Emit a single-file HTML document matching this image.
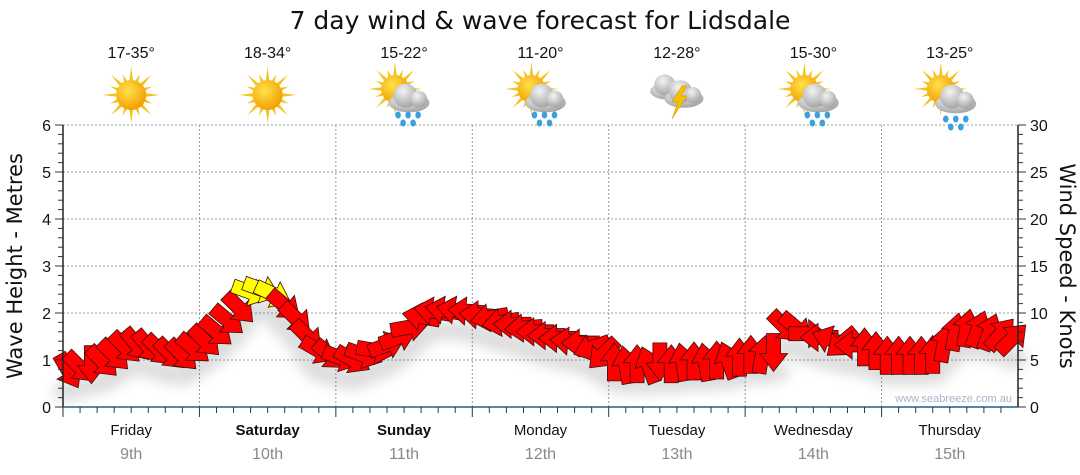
<!DOCTYPE html>
<html><head><meta charset="utf-8">
<style>
html,body{margin:0;padding:0;background:#fff;}
svg{display:block;font-family:"Liberation Sans","DejaVu Sans",sans-serif;}
</style></head>
<body>
<svg id="chart" width="1080" height="475" viewBox="0 0 1080 475" xmlns="http://www.w3.org/2000/svg">
<defs>
<radialGradient id="sunG" cx="0.4" cy="0.35" r="0.7"><stop offset="0" stop-color="#ffe24a"/><stop offset="1" stop-color="#f29a00"/></radialGradient>
<radialGradient id="cloudG" cx="0.4" cy="0.3" r="0.8"><stop offset="0" stop-color="#f4f4f4"/><stop offset="1" stop-color="#9a9a9a"/></radialGradient>
<filter id="shadow" x="-50%" y="-50%" width="200%" height="200%"><feGaussianBlur stdDeviation="6"/></filter>
</defs>
<text x="540" y="29" font-size="25" text-anchor="middle" fill="#111" font-family="DejaVu Sans, sans-serif">7 day wind &amp; wave forecast for Lidsdale</text>
<g id="grid"></g>
<g id="icons"></g>
<g id="shadows" filter="url(#shadow)" opacity="0.22"></g>
<g id="arrows"></g>
<g id="axes"></g>
<text transform="translate(22,266) rotate(-90)" font-size="21" text-anchor="middle" fill="#111" font-family="DejaVu Sans, sans-serif">Wave Height - Metres</text>
<text transform="translate(1060,266) rotate(90)" font-size="21" text-anchor="middle" fill="#111" font-family="DejaVu Sans, sans-serif">Wind Speed - Knots</text>
<text x="1012" y="402" font-size="11" text-anchor="end" fill="#aab4c4">www.seabreeze.com.au</text>
</svg>
<script>
const days = ["Friday","Saturday","Sunday","Monday","Tuesday","Wednesday","Thursday"];
const dates = ["9th","10th","11th","12th","13th","14th","15th"];
const boldDays = [false,true,true,false,false,false,false];
const temps = ["17-35°","18-34°","15-22°","11-20°","12-28°","15-30°","13-25°"];
const weather = ["sun","sun","sunrain","sunrain","storm","sunrain","suncloud"];
const waveTicks = [0,1,2,3,4,5,6];
const windTicks = [0,5,10,15,20,25,30];
const windSpeed = [
3.8,4.2,4.5,4.8,5.5,6.3,6.6,6.4,6.0,5.6,5.5,6.2,
7.0,8.0,9.2,10.5,12.2,12.5,12.0,10.8,9.4,7.5,6.0,5.5,
5.2,5.0,5.5,6.0,6.6,7.4,8.5,9.6,10.2,10.3,10.3,10.2,
9.8,9.5,9.0,8.8,8.4,8.0,7.6,7.3,7.0,6.8,6.3,5.6,
4.8,4.5,4.6,4.5,4.8,4.6,4.8,4.9,4.8,5.0,5.0,5.3,
5.6,5.6,5.8,8.5,8.4,7.8,7.4,7.2,6.8,6.6,6.4,6.0,
5.5,5.5,5.5,5.5,5.6,6.8,8.0,8.4,8.3,8.0,7.8,7.3];
const windDir = [
60,45,90,45,45,45,50,50,45,45,45,40,
45,40,40,45,20,20,25,40,45,45,30,40,
20,30,20,10,-20,-20,-10,190,190,190,190,185,
185,170,170,180,175,180,180,180,185,180,160,135,
270,260,270,250,90,270,260,270,260,270,250,270,
270,280,90,45,40,0,180,200,140,180,270,270,
270,270,270,270,270,280,280,280,290,290,310,315];

const NS="http://www.w3.org/2000/svg";
const L=63,R=1018,T=125,B=407,dayW=(R-L)/7;
const yW=m=>B-(B-T)*m/6;
const yK=k=>B-(B-T)*k/30;
const xT=(d,h)=>L+(d+h/24)*dayW;
function el(tag,attrs,parent){const e=document.createElementNS(NS,tag);for(const k in attrs)e.setAttribute(k,attrs[k]);parent.appendChild(e);return e;}
const grid=document.getElementById('grid'),axes=document.getElementById('axes'),icons=document.getElementById('icons');

waveTicks.forEach(m=>{if(m>0){const g=el('line',{x1:L,x2:R,y1:yW(m),y2:yW(m),stroke:'#999','stroke-dasharray':'2,2'},grid);}
 const t=el('text',{x:L-12,y:yW(m)+6,'font-size':16,'text-anchor':'end',fill:'#111'},axes);t.textContent=m;
 });
for(let i=0;i<=30;i++){const y=yW(i/5);el('line',{x1:L-(i%5==0?8:5),x2:L,y1:y,y2:y,stroke:'#333'},axes);}
windTicks.forEach(k=>{const t=el('text',{x:R+12,y:yK(k)+6,'font-size':16,fill:'#111'},axes);t.textContent=k;
 });
for(let i=0;i<=30;i++){const y=yK(i);el('line',{x1:R,x2:R+(i%5==0?8:5),y1:y,y2:y,stroke:'#333'},axes);}
el('line',{x1:L,x2:L,y1:T,y2:B,stroke:'#222','stroke-width':1.5},axes);
el('line',{x1:R,x2:R,y1:T,y2:B,stroke:'#222','stroke-width':1.5},axes);
el('line',{x1:L,x2:R,y1:B,y2:B,stroke:'#1f5f8b','stroke-width':1.5},axes);
for(let d=0;d<7;d++){
 if(d>0){const g=el('line',{x1:xT(d,0),x2:xT(d,0),y1:T,y2:B,stroke:'#999','stroke-dasharray':'2,2'},grid);}
 for(let h=0;h<24;h+=3)el('line',{x1:xT(d,h),x2:xT(d,h),y1:B,y2:B+(h==0?10:6),stroke:'#333'},axes);
 const cx=xT(d,12);
 const t=el('text',{x:cx,y:435,'font-size':15,'text-anchor':'middle',fill:'#111','font-weight':boldDays[d]?'bold':'normal'},axes);t.textContent=days[d];
 
 const t2=el('text',{x:cx,y:459,'font-size':16,'text-anchor':'middle',fill:'#888'},axes);t2.textContent=dates[d];
 
 const t3=el('text',{x:cx,y:58,'font-size':16,'text-anchor':'middle',fill:'#111'},icons);t3.textContent=temps[d];
 
 drawIcon(weather[d],cx,95);
}
function sun(g,x,y,r){for(let i=0;i<16;i++){const a=i*Math.PI/8,l=(i%2?r*1.5:r*1.9);
 el('polygon',{points:`${x+Math.cos(a-0.18)*r*0.8},${y+Math.sin(a-0.18)*r*0.8} ${x+Math.cos(a)*l},${y+Math.sin(a)*l} ${x+Math.cos(a+0.18)*r*0.8},${y+Math.sin(a+0.18)*r*0.8}`,fill:'#f5c21a'},g);}
 el('circle',{cx:x,cy:y,r:r,fill:'url(#sunG)'},g);}
function cloud(g,x,y,s){el('ellipse',{cx:x,cy:y+4*s,rx:17*s,ry:8*s,fill:'url(#cloudG)'},g);el('circle',{cx:x-3*s,cy:y-2*s,r:10*s,fill:'url(#cloudG)'},g);el('circle',{cx:x+8*s,cy:y+1*s,r:7*s,fill:'url(#cloudG)'},g);}
function drops(g,x,y){[[-10,0],[0,0],[10,0],[-5,8],[5,8]].forEach(p=>el('ellipse',{cx:x+p[0],cy:y+p[1],rx:2.8,ry:3.5,fill:'#3aa0e0'},g));}
function drawIcon(type,x,y){const g=el('g',{},icons);
 if(type=='sun'){sun(g,x,y,15);}
 else if(type=='sunrain'){sun(g,x-9,y-6,14);cloud(g,x+5,y+3,1.2);drops(g,x+4,y+20);}
 else if(type=='suncloud'){sun(g,x-9,y-6,14);cloud(g,x+6,y+4,1.2);drops(g,x+6,y+24);}
 else {cloud(g,x-9,y-8,1.05);cloud(g,x+7,y-1,1.15);el('polygon',{points:`${x+5},${y-9} ${x-5},${y+7} ${x+1},${y+7} ${x-5},${y+24} ${x+10},${y+1} ${x+4},${y+1} ${x+10},${y-9}`,fill:'#f5c000',stroke:'#c89000','stroke-width':0.5},g);}
}
const arrows=document.getElementById('arrows'),shadows=document.getElementById('shadows');
const shape="-19,-7 1,-7 1,-14 19,0 1,14 1,7 -19,7";
windSpeed.forEach((k,i)=>{const d=Math.floor(i/12),h=(i%12)*2+1;const x=xT(d,h),y=yK(k);
 const s=el('ellipse',{cx:x,cy:y+20,rx:16,ry:10,fill:'#666'},shadows);
 
 const a=el('polygon',{points:shape,fill:k>=12?'#ffff00':'#ff0000',stroke:'#3a1010','stroke-width':0.8,transform:`translate(${x},${y}) rotate(${windDir[i]})`},arrows);
 });
</script>
</body></html>
